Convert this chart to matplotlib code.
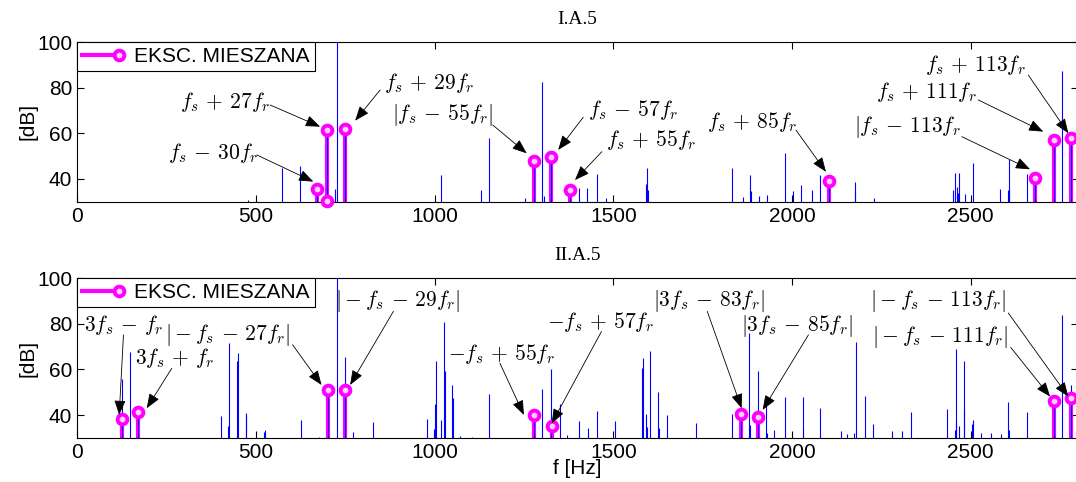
import matplotlib
matplotlib.use("Agg")
import matplotlib.pyplot as plt
from matplotlib.legend_handler import HandlerBase
from matplotlib.lines import Line2D

plt.rcParams['mathtext.fontset'] = 'cm'
plt.rcParams['font.family'] = ['Liberation Sans', 'DejaVu Sans']

### spectrum lines, panel I.A.5
f_top = [477, 574, 625, 671, 698, 700, 723, 726, 750, 1017, 1129, 1153, 1253, 1279, 1302, 1305,
         1326, 1379, 1403, 1427, 1454, 1479, 1593, 1595, 1597, 1831, 1862, 1883, 1885, 1908,
         1931, 1981, 2004, 2026, 2055, 2079, 2103, 2175, 2177, 2230, 2451, 2457, 2461, 2465,
         2467, 2484, 2507, 2583, 2604, 2606, 2608, 2656, 2681, 2734, 2756, 2780]
db_top = [30.6, 44.9, 45.5, 35.6, 61.5, 30.5, 35.5, 102, 62, 41.5, 35, 58, 31.5, 48, 82.4, 32.6,
          49.5, 35, 36, 35.8, 42.3, 31.6, 37.6, 44.9, 35, 44.9, 32, 41.5, 34.7, 32.3,
          32.9, 51.3, 34.7, 37.3, 35, 41.5, 39, 38.5, 35, 31.6, 35.3, 42.6, 36.4, 34,
          42.6, 33.2, 47, 35.4, 35, 48.5, 35, 42.3, 40.3, 57, 87.2, 58]

### mixed eccentricity components, panel I.A.5
fm_top = [671, 698, 700, 750, 1279, 1326, 1379, 2103, 2681, 2734, 2780]
dbm_top = [35.6, 61.5, 30.5, 62, 48, 49.5, 35, 39, 40.3, 57, 58]

### spectrum lines, panel II.A.5
f_bot = [125, 148, 171, 403, 423, 426, 447, 449.5, 472, 473, 524, 526, 626, 678, 703, 726, 750,
         773, 827, 978, 999, 1001, 1004, 1017, 1026, 1028, 1050, 1052, 1072, 1104, 1153, 1278,
         1302, 1326, 1351, 1371, 1405, 1430, 1454, 1505, 1579.5, 1582, 1592, 1594, 1603, 1626,
         1627, 1651, 1731, 1831, 1856, 1880, 1882, 1904, 1927, 1929, 1950, 1980, 2030, 2032,
         2079, 2136, 2155, 2174, 2179, 2204, 2227, 2281, 2307, 2332, 2434, 2457, 2458, 2460,
         2468, 2480, 2481, 2504, 2506, 2530, 2558, 2585, 2604, 2606, 2656, 2734, 2756, 2780]
db_bot = [55.9, 67.6, 41.2, 39.5, 35.1, 71.5, 63.9, 67.1, 40.9, 39.5, 32.6, 33.6, 37.7, 30.4, 53.4, 102, 65.4,
          32.6, 37, 38.3, 34, 45, 63.9, 37.7, 80.6, 59.5, 53.4, 47.5, 30.7, 30.4, 49.4, 40,
          51.5, 60.3, 45, 31.2, 37.4, 34.4, 41.8, 37.4, 60.7, 65.1, 40.6, 35, 68, 50.1,
          34.5, 39.9, 36.7, 40.3, 40.4, 75.9, 35.5, 59.3, 45.9, 32, 33.3, 47.9, 33.6, 47.9,
          43.1, 33, 31.6, 32.3, 72, 48.2, 36.3, 33, 33, 41.4, 42.8, 33.3, 69, 37,
          35.1, 42.8, 63.6, 36.3, 38, 32.3, 32.3, 31.6, 45.9, 33.6, 41.4, 46, 83.7, 53.3]

### mixed eccentricity components, panel II.A.5
fm_bot = [125, 171, 703, 750, 1278, 1328, 1856, 1904, 2734, 2780]
dbm_bot = [38.3, 41.2, 51.2, 51.2, 40, 35.2, 40.4, 39.3, 46.1, 47.5]

# labels: text, text centre, arrow start, arrow tip  (Hz, dB)
ann_top = [
    (r'$f_s\,+\,27f_r$', (414, 73.8), (540, 72.4), (680, 62.9)),
    (r'$f_s\,-\,30f_r$', (381, 51.2), (503, 50.5), (661, 38.8)),
    (r'$f_s\,+\,29f_r$', (985, 81.9), (848, 79.0), (778, 65.5)),
    (r'$|f_s\,-\,55f_r|$', (1022, 68.0), (1163, 63.6), (1258, 51.2)),
    (r'$f_s\,-\,57f_r$', (1556, 70.2), (1416, 67.0), (1346, 52.7)),
    (r'$f_s\,+\,55f_r$', (1605, 57.0), (1468, 51.9), (1393, 39.5)),
    (r'$f_s\,+\,85f_r$', (1887, 65.0), (2011, 61.4), (2095, 43.1)),
    (r'$|f_s\,-\,113f_r$', (2323, 62.9), (2475, 58.5), (2666, 44.2)),
    (r'$f_s\,+\,111f_r$', (2377, 78.2), (2521, 74.6), (2703, 60.7)),
    (r'$f_s\,+\,113f_r$', (2514, 89.9), (2661, 85.5), (2773, 60.0)),
]
ann_bot = [
    (r'$3f_s\,-\,f_r$', (130, 79.5), (130, 75.1), (118, 40.1)),
    (r'$3f_s\,+\,f_r$', (272, 65.2), (265, 60.5), (195, 43.0)),
    (r'$|-f_s\,-\,27f_r|$', (423, 75.1), (603, 70.8), (684, 53.2)),
    (r'$|-f_s\,-\,29f_r|$', (896, 89.8), (885, 85.4), (764, 53.2)),
    (r'$-f_s\,+\,55f_r$', (1188, 66.7), (1183, 62.7), (1250, 40.1)),
    (r'$-f_s\,+\,57f_r$', (1465, 80.8), (1467, 76.6), (1328, 36.4)),
    (r'$|3f_s\,-\,83f_r|$', (1768, 89.8), (1763, 85.4), (1859, 43.0)),
    (r'$|3f_s\,-\,85f_r|$', (2015, 79.0), (2046, 75.1), (1918, 42.3)),
    (r'$|-f_s\,-\,113f_r|$', (2409, 89.8), (2605, 84.7), (2773, 48.1)),
    (r'$|-f_s\,-\,111f_r|$', (2414, 74.4), (2612, 69.6), (2722, 48.1)),
]

MAG = '#ff00ff'


class StemHandler(HandlerBase):
    # line with the circle at its right end, like a stem legend entry
    def create_artists(self, legend, orig_handle, xdescent, ydescent, width, height, fontsize, trans):
        y = height / 2 - ydescent
        ln = Line2D([-xdescent, width - xdescent], [y, y], color=MAG, lw=3, transform=trans)
        mk = Line2D([width - xdescent - 2], [y], marker='o', ms=7, mfc='#ffd0ff', mec=MAG, mew=2.8,
                    linestyle='none', transform=trans)
        return [ln, mk]


def panel(ax, f, db, fm, dbm, ann, title):
    ax.vlines(fm, 0, dbm, color=MAG, lw=3, zorder=2)
    ax.vlines(f, 0, db, color='#0000ff', lw=0.8, zorder=3)
    ax.plot(fm, dbm, 'o', ms=7, mfc='#ffd0ff', mec=MAG, mew=2.8, zorder=4, clip_on=False)
    for txt, tpos, start, tip in ann:
        ax.text(tpos[0], tpos[1], txt, ha='center', va='center', fontsize=15.5, zorder=5)
        ax.annotate('', xy=tip, xytext=start,
                    arrowprops=dict(arrowstyle='-|>,head_length=0.9,head_width=0.35',
                                    color='k', lw=0.6, shrinkA=0, shrinkB=0), zorder=5)
    ax.set_xlim(0, 2800)
    ax.set_ylim(30, 100)
    ax.set_xticks([0, 500, 1000, 1500, 2000, 2500])
    ax.set_yticks([40, 60, 80, 100])
    ax.tick_params(direction='in', length=5, top=True, right=True, labelsize=15, width=0.8)
    ax.set_ylabel('[dB]', fontsize=15, labelpad=0)
    ax.set_title(title, family='Liberation Serif', fontsize=14, pad=13)
    for s in ax.spines.values():
        s.set_linewidth(0.8)
    h = Line2D([], [], color=MAG)
    ax.legend([h], ['EKSC. MIESZANA'], handler_map={Line2D: StemHandler()}, loc='upper left',
              borderaxespad=0, fancybox=False, edgecolor='k', framealpha=1, fontsize=15,
              handlelength=1.9, handletextpad=0.6, borderpad=0.25).get_frame().set_linewidth(0.8)


fig = plt.figure(figsize=(10.76, 4.82), dpi=100)
ax1 = fig.add_axes([77 / 1076, 1 - 201.7 / 482, 1001 / 1076, 159.7 / 482])
ax2 = fig.add_axes([77 / 1076, 1 - 438 / 482, 1001 / 1076, 160 / 482])

panel(ax1, f_top, db_top, fm_top, dbm_top, ann_top, 'I.A.5')
panel(ax2, f_bot, db_bot, fm_bot, dbm_bot, ann_bot, 'II.A.5')
ax2.set_xlabel('f [Hz]', fontsize=15, labelpad=-2)

fig.savefig('out.png', dpi=100)
